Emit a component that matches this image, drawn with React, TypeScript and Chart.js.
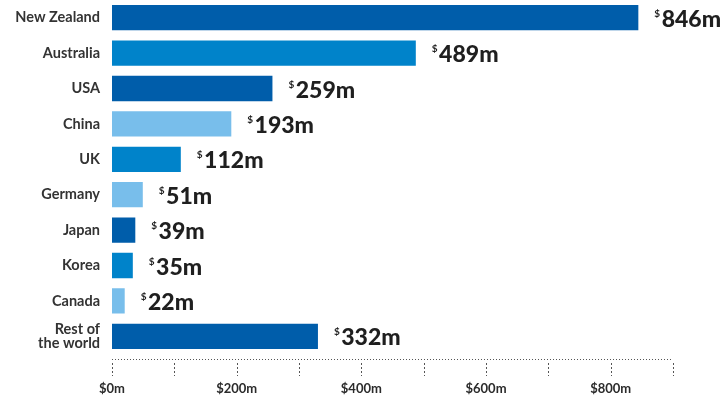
import React, { useEffect, useRef } from "react";
import { Chart, registerables } from "chart.js";

Chart.register(...registerables);

const categories: (string | string[])[] = [
  "New Zealand",
  "Australia",
  "USA",
  "China",
  "UK",
  "Germany",
  "Japan",
  "Korea",
  "Canada",
  ["Rest of", "the world"],
];
const values = [846, 489, 259, 193, 112, 51, 39, 35, 22, 332];
const DARK = "#005DAA";
const MID = "#0083CA";
const LIGHT = "#78BEEB";
const barColors = [DARK, MID, DARK, LIGHT, MID, LIGHT, DARK, MID, LIGHT, DARK];
const tickLabels: Record<number, string> = { 0: "$0m", 200: "$200m", 400: "$400m", 600: "$600m", 800: "$800m" };

const FONT = "Lato, 'Open Sans', sans-serif";

const valueLabels = {
  id: "valueLabels",
  afterDatasetsDraw(chart: any) {
    const ctx = chart.ctx;
    const meta = chart.getDatasetMeta(0);
    ctx.save();
    ctx.fillStyle = "#1f1f1f";
    meta.data.forEach((bar: any, i: number) => {
      const x = bar.x + 15;
      const y = bar.y;
      ctx.textAlign = "left";
      ctx.textBaseline = "alphabetic";
      ctx.font = `bold 10px ${FONT}`;
      ctx.fillText("$", x, y - 1);
      const w = ctx.measureText("$").width;
      ctx.font = `900 23px ${FONT}`;
      ctx.fillText(values[i] + "m", x + w + 1.5, y + 9);
    });
    ctx.restore();
  },
};

const axisDecor = {
  id: "axisDecor",
  afterDraw(chart: any) {
    const ctx = chart.ctx;
    const xs = chart.scales.x;
    const area = chart.chartArea;
    const lineY = area.bottom + 5;
    ctx.save();
    ctx.strokeStyle = "#555";
    ctx.lineWidth = 1;
    ctx.setLineDash([1, 2]);
    ctx.beginPath();
    ctx.moveTo(area.left, lineY + 0.5);
    ctx.lineTo(area.right, lineY + 0.5);
    ctx.stroke();
    ctx.setLineDash([2, 2]);
    xs.ticks.forEach((t: any) => {
      const px = Math.round(xs.getPixelForValue(t.value)) + 0.5;
      ctx.beginPath();
      ctx.moveTo(px, lineY + 4);
      ctx.lineTo(px, lineY + 17);
      ctx.stroke();
    });
    ctx.restore();
  },
};

export default function App() {
  const ref = useRef<HTMLCanvasElement | null>(null);
  useEffect(() => {
    document.body.style.margin = "0";
    const chart = new Chart(ref.current as HTMLCanvasElement, {
      type: "bar",
      data: {
        labels: categories as any,
        datasets: [
          {
            data: values,
            backgroundColor: barColors,
            borderColor: "rgba(255,255,255,0.35)",
            borderWidth: 1,
            barPercentage: 0.77,
            categoryPercentage: 1,
          },
        ],
      },
      options: {
        indexAxis: "y",
        animation: false,
        responsive: false,
        maintainAspectRatio: false,
        layout: { padding: { top: 0, right: 51, left: 0, bottom: 0 } },
        plugins: { legend: { display: false }, tooltip: { enabled: false } },
        scales: {
          x: {
            min: 0,
            max: 900,
            grid: { display: false },
            border: { display: false },
            ticks: {
              stepSize: 100,
              autoSkip: false,
              maxRotation: 0,
              padding: 19,
              color: "#2b2b2b",
              font: { family: FONT, size: 13, weight: "bold" },
              callback: (v: any) => tickLabels[Number(v)] ?? "",
            },
            afterFit: (s: any) => {
              s.height = 41;
              s.paddingLeft = 0;
              s.paddingRight = 0;
            },
          },
          y: {
            grid: { display: false },
            border: { display: false },
            ticks: {
              padding: 4,
              color: "#333",
              font: { family: FONT, size: 14.5, weight: "bold", lineHeight: 1.0 },
            },
            afterFit: (s: any) => {
              s.width = 112;
              s.paddingTop = 0;
              s.paddingBottom = 0;
            },
          },
        },
      },
      plugins: [valueLabels, axisDecor],
    });
    return () => chart.destroy();
  }, []);
  return (
    <div style={{ width: 724, height: 395 }}>
      <canvas ref={ref} width={724} height={395} style={{ display: "block" }} />
    </div>
  );
}
